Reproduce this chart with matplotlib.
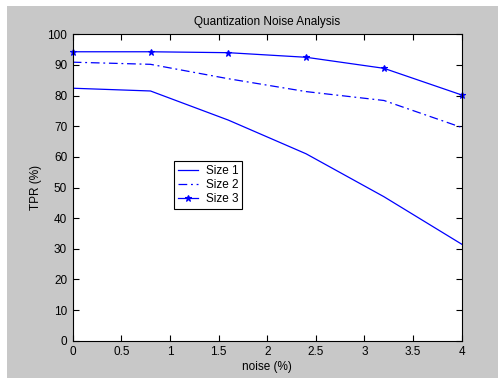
import matplotlib
matplotlib.use("Agg")
import matplotlib.pyplot as plt
from matplotlib.patches import Rectangle

noise = [0, 0.8, 1.6, 2.4, 3.2, 4.0]
size1 = [82.4, 81.5, 72.0, 61.0, 47.0, 31.5]
size2 = [90.9, 90.2, 85.5, 81.3, 78.4, 69.6]
size3 = [94.3, 94.3, 94.0, 92.5, 88.9, 80.2]
labels = ["Size 1", "Size 2", "Size 3"]
xticks = [0, 0.5, 1, 1.5, 2, 2.5, 3, 3.5, 4]
yticks = list(range(0, 101, 10))

plt.rcParams['font.family'] = ['Liberation Sans', 'DejaVu Sans']
fs = 8.5
plt.rcParams['font.size'] = fs

fig = plt.figure(figsize=(5.02, 3.79), dpi=100, facecolor='white')
fig.patches.append(Rectangle((7/502, 1/379), 491/502, 372/379, transform=fig.transFigure,
                             facecolor='#c8c8c8', edgecolor='none', zorder=-10))
ax = fig.add_axes([72.7/502, 1 - 340.7/379, (461.7 - 72.7)/502, (340.7 - 34.3)/379])
ax.set_facecolor('white')

ax.plot(noise, size1, color='blue', lw=0.9, label=labels[0])
ax.plot(noise, size2, color='blue', lw=0.9, linestyle=(0, (7, 3, 1.5, 3)), label=labels[1])
ax.plot(noise, size3, color='blue', lw=0.9, marker='*', markersize=5, markeredgewidth=0.8,
        label=labels[2], clip_on=False)

ax.set_xlim(0, 4)
ax.set_ylim(0, 100)
ax.set_xticks(xticks)
ax.set_xticklabels([f"{t:g}" for t in xticks])
ax.set_yticks(yticks)
ax.tick_params(direction='in', top=True, right=True, length=4, width=0.8, pad=4, labelsize=fs)
for s in ax.spines.values():
    s.set_linewidth(0.8)
    s.set_color('black')

ax.set_title("Quantization Noise Analysis", fontsize=fs, pad=7)
ax.set_xlabel("noise (%)", fontsize=fs, labelpad=2)
ax.set_ylabel("TPR (%)", fontsize=fs, labelpad=4)

leg = ax.legend(loc='upper left', bbox_to_anchor=(0.26, 0.5865), borderaxespad=0,
                fancybox=False, edgecolor='black', framealpha=1, fontsize=fs,
                handlelength=1.7, labelspacing=0.15, borderpad=0.35, handletextpad=0.65)
leg.get_frame().set_linewidth(0.8)

fig.savefig("out.png", dpi=100, facecolor=fig.get_facecolor())
